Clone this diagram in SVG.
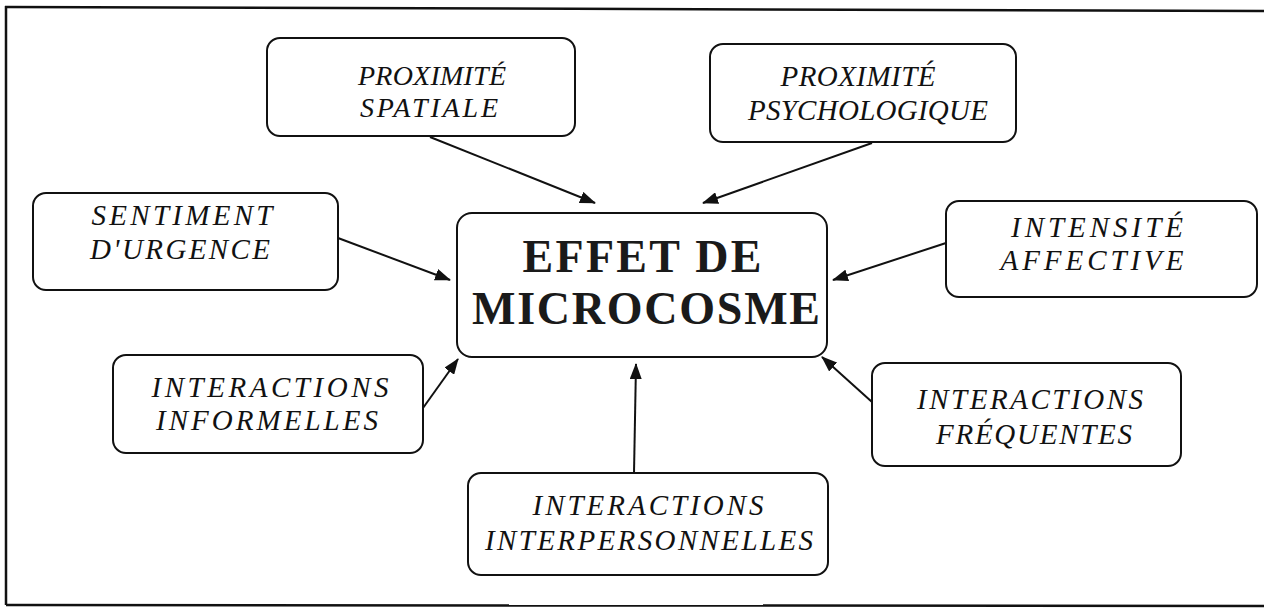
<svg xmlns="http://www.w3.org/2000/svg" width="1264" height="610" viewBox="0 0 1264 610">
<style>
.box{fill:#fff;stroke:#111;stroke-width:2}
.lbl{font-family:"Liberation Serif","Times New Roman",serif;font-style:italic;font-size:29px;fill:#111}
.sm{font-size:28px}
.main{font-family:"Liberation Serif","Times New Roman",serif;font-weight:bold;font-size:46px;fill:#1a1a1a}
.edge{stroke:#111;stroke-width:2;fill:none;marker-end:url(#ah)}
.frame{stroke:#111;stroke-width:2.5;fill:none}
</style>
<defs>
<marker id="ah" viewBox="0 0 16 12" refX="15" refY="6" markerWidth="16" markerHeight="12" markerUnits="userSpaceOnUse" orient="auto">
<path d="M0,0 L16,6 L0,12 Z" fill="#111"/>
</marker>
</defs>
<rect width="1264" height="610" fill="#fff"/>
<g id="frame">
<path class="frame" d="M5,7 L1264,11"/>
<path class="frame" d="M6,6 L6,605"/>
<path class="frame" d="M6,605 L1264,606" stroke-width="1.5"/>
</g>
<g id="connectors">
<line class="edge" x1="430" y1="137" x2="595" y2="203"/>
<line class="edge" x1="872" y1="143" x2="703" y2="203"/>
<line class="edge" x1="338" y1="238" x2="450" y2="280"/>
<line class="edge" x1="946" y1="243" x2="833" y2="280"/>
<line class="edge" x1="423" y1="408" x2="458" y2="359"/>
<line class="edge" x1="872" y1="402" x2="822" y2="357"/>
<line class="edge" x1="634" y1="473" x2="636" y2="364"/>
</g>
<g id="n-spatiale">
<rect class="box" x="267" y="38" width="308" height="98" rx="13"/>
<text class="lbl sm" x="432" y="85" text-anchor="middle" textLength="148" lengthAdjust="spacing">PROXIMITÉ</text>
<text class="lbl sm" x="429" y="117" text-anchor="middle" textLength="138" lengthAdjust="spacing">SPATIALE</text>
</g>
<g id="n-psycho">
<rect class="box" x="710" y="44" width="306" height="98" rx="13"/>
<text class="lbl" x="858" y="86" text-anchor="middle" textLength="155" lengthAdjust="spacing">PROXIMITÉ</text>
<text class="lbl" x="868" y="120" text-anchor="middle" textLength="240" lengthAdjust="spacing">PSYCHOLOGIQUE</text>
</g>
<g id="n-sentiment">
<rect class="box" x="33" y="193" width="305" height="97" rx="13"/>
<text class="lbl" x="182" y="225" text-anchor="middle" textLength="181" lengthAdjust="spacing">SENTIMENT</text>
<text class="lbl" x="180" y="259" text-anchor="middle" textLength="180" lengthAdjust="spacing">D'URGENCE</text>
</g>
<g id="n-center">
<rect class="box" x="457" y="213" width="370" height="144" rx="15"/>
<text class="main" x="642" y="272" text-anchor="middle" textLength="239" lengthAdjust="spacing">EFFET DE</text>
<text class="main" x="646" y="324" text-anchor="middle" textLength="348" lengthAdjust="spacing">MICROCOSME</text>
</g>
<g id="n-intensite">
<rect class="box" x="946" y="201" width="311" height="96" rx="13"/>
<text class="lbl" x="1097" y="237" text-anchor="middle" textLength="172" lengthAdjust="spacing">INTENSITÉ</text>
<text class="lbl" x="1092" y="270" text-anchor="middle" textLength="183" lengthAdjust="spacing">AFFECTIVE</text>
</g>
<g id="n-informelles">
<rect class="box" x="113" y="355" width="310" height="98" rx="13"/>
<text class="lbl" x="270" y="397" text-anchor="middle" textLength="237" lengthAdjust="spacing">INTERACTIONS</text>
<text class="lbl" x="267" y="430" text-anchor="middle" textLength="222" lengthAdjust="spacing">INFORMELLES</text>
</g>
<g id="n-frequentes">
<rect class="box" x="872" y="363" width="309" height="103" rx="13"/>
<text class="lbl" x="1030" y="409" text-anchor="middle" textLength="226" lengthAdjust="spacing">INTERACTIONS</text>
<text class="lbl" x="1034" y="444" text-anchor="middle" textLength="196" lengthAdjust="spacing">FRÉQUENTES</text>
</g>
<g id="n-interpersonnelles">
<rect class="box" x="468" y="473" width="360" height="102" rx="13"/>
<text class="lbl" x="648" y="515" text-anchor="middle" textLength="231" lengthAdjust="spacing">INTERACTIONS</text>
<text class="lbl" x="649" y="550" text-anchor="middle" textLength="328" lengthAdjust="spacing">INTERPERSONNELLES</text>
</g>
</svg>
